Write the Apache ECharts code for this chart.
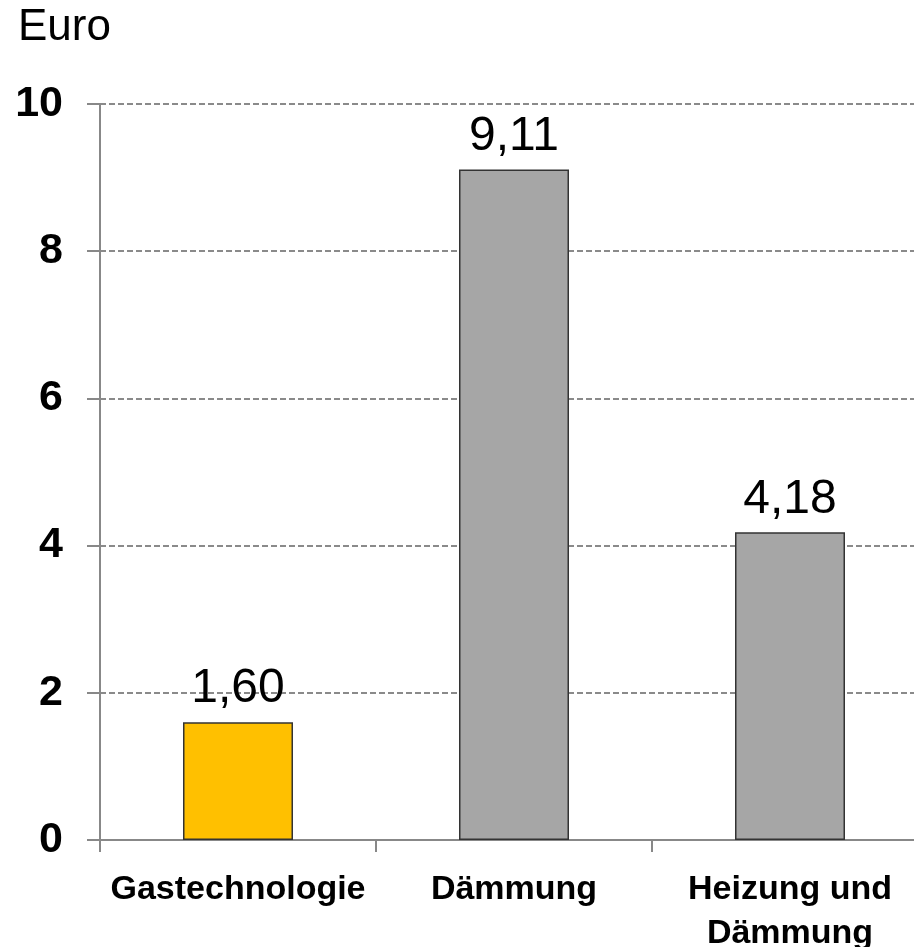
<!DOCTYPE html>
<html>
<head>
<meta charset="utf-8">
<script src="https://cdn.jsdelivr.net/npm/echarts@6/dist/echarts.min.js"></script>
<style>
html,body{margin:0;padding:0;background:#fff;}
#chart{width:914px;height:947px;}
</style>
</head>
<body>
<div id="chart"></div>
<script>
const categories = ['Gastechnologie', 'Dämmung', 'Heizung und\nDämmung'];
const values = [1.60, 9.11, 4.18];
const barColors = ['#FFC000', '#A6A6A6', '#A6A6A6'];
const unitLabel = 'Euro';

const chart = echarts.init(document.getElementById('chart'), null, {renderer: 'canvas'});
const font = 'Liberation Sans, Arial, sans-serif';
chart.setOption({
  animation: false,
  backgroundColor: '#ffffff',
  title: {
    text: unitLabel,
    left: 13,
    top: 1,
    textStyle: {fontFamily: font, fontSize: 44, fontWeight: 'normal', color: '#000'}
  },
  grid: {left: 100, top: 104, width: 828, height: 736, containLabel: false, outerBoundsMode: 'none'},
  xAxis: {
    type: 'category',
    data: categories,
    axisLine: {show: true, lineStyle: {color: '#888888', width: 2}},
    axisTick: {show: true, length: 12, lineStyle: {color: '#888888', width: 2}},
    axisLabel: {
      fontFamily: font, fontSize: 34, fontWeight: 'bold', color: '#000',
      margin: 28, lineHeight: 44, interval: 0
    }
  },
  yAxis: {
    type: 'value',
    min: 0, max: 10, interval: 2,
    axisLine: {show: true, lineStyle: {color: '#888888', width: 2}},
    axisTick: {show: true, length: 13, lineStyle: {color: '#888888', width: 2}},
    axisLabel: {fontFamily: font, fontSize: 43, fontWeight: 'bold', color: '#000', margin: 37},
    splitLine: {show: true, lineStyle: {color: '#8a8a8a', width: 2, type: [6, 3]}}
  },
  series: [{
    type: 'bar',
    barWidth: 110,
    data: values.map((v, i) => ({value: v, itemStyle: {color: barColors[i]}})),
    itemStyle: {borderColor: '#333333', borderWidth: 1.5},
    label: {
      show: true, position: 'top', distance: 9,
      fontFamily: font, fontSize: 48, color: '#000',
      formatter: p => p.value.toFixed(2).replace('.', ',')
    }
  }]
});
</script>
</body>
</html>
